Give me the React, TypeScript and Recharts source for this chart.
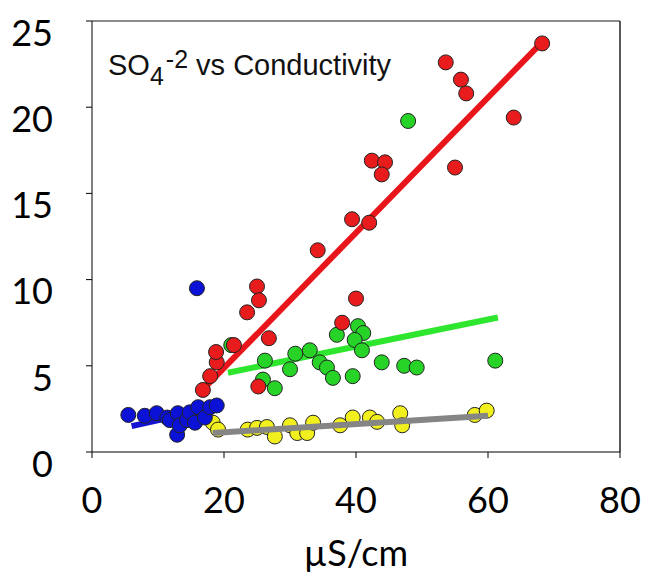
import React from 'react';
import { ScatterChart, Scatter, XAxis, YAxis, ReferenceLine } from 'recharts';

// conductivity (µS/cm) vs SO4 readings, grouped by site
const redPts = [
  { x: 16.8, y: 3.6 }, { x: 17.9, y: 4.4 }, { x: 18.9, y: 5.2 }, { x: 18.8, y: 5.8 },
  { x: 21.5, y: 6.2 }, { x: 23.5, y: 8.1 }, { x: 25.0, y: 9.6 }, { x: 25.3, y: 8.8 },
  { x: 26.8, y: 6.6 }, { x: 25.2, y: 3.8 }, { x: 37.9, y: 7.5 }, { x: 40.0, y: 8.9 },
  { x: 34.2, y: 11.7 }, { x: 39.4, y: 13.5 }, { x: 42.0, y: 13.3 }, { x: 42.4, y: 16.9 },
  { x: 44.4, y: 16.8 }, { x: 43.9, y: 16.1 }, { x: 55.0, y: 16.5 }, { x: 53.6, y: 22.6 },
  { x: 55.9, y: 21.6 }, { x: 56.7, y: 20.8 }, { x: 63.9, y: 19.4 }, { x: 68.2, y: 23.7 },
];
const greenPts = [
  { x: 21.1, y: 6.2 }, { x: 26.2, y: 5.3 }, { x: 25.9, y: 4.2 }, { x: 27.7, y: 3.7 },
  { x: 30.0, y: 4.8 }, { x: 30.8, y: 5.7 }, { x: 33.0, y: 5.9 }, { x: 34.5, y: 5.2 },
  { x: 35.6, y: 4.9 }, { x: 36.5, y: 4.3 }, { x: 37.1, y: 6.8 }, { x: 39.5, y: 4.4 },
  { x: 40.3, y: 7.3 }, { x: 41.1, y: 6.9 }, { x: 39.8, y: 6.5 }, { x: 40.9, y: 5.9 },
  { x: 43.9, y: 5.2 }, { x: 47.3, y: 5.0 }, { x: 49.2, y: 4.9 }, { x: 61.1, y: 5.3 },
  { x: 47.9, y: 19.2 },
];
const yellowPts = [
  { x: 18.3, y: 1.7 }, { x: 19.1, y: 1.3 }, { x: 23.6, y: 1.3 }, { x: 25.0, y: 1.4 },
  { x: 26.5, y: 1.45 }, { x: 27.7, y: 0.9 }, { x: 30.0, y: 1.55 }, { x: 31.1, y: 1.1 },
  { x: 32.6, y: 1.1 }, { x: 33.5, y: 1.7 }, { x: 37.6, y: 1.55 }, { x: 39.5, y: 2.0 },
  { x: 42.1, y: 2.0 }, { x: 43.2, y: 1.75 }, { x: 46.7, y: 2.25 }, { x: 47.0, y: 1.55 },
  { x: 58.0, y: 2.15 }, { x: 59.8, y: 2.4 },
];
const bluePts = [
  { x: 5.5, y: 2.15 }, { x: 8.0, y: 2.1 }, { x: 9.8, y: 2.25 }, { x: 11.4, y: 2.0 },
  { x: 11.8, y: 1.85 }, { x: 13.0, y: 2.25 }, { x: 12.9, y: 1.0 }, { x: 13.3, y: 1.55 },
  { x: 14.4, y: 1.85 }, { x: 14.8, y: 2.3 }, { x: 15.6, y: 1.7 }, { x: 16.1, y: 2.6 },
  { x: 17.1, y: 2.0 }, { x: 17.9, y: 2.6 }, { x: 18.9, y: 2.7 }, { x: 15.9, y: 9.5 },
];

// trend lines (end points)
const redFit = [{ x: 17, y: 3.7 }, { x: 67.5, y: 23.5 }];
const greenFit = [{ x: 20.6, y: 4.6 }, { x: 61.5, y: 7.8 }];
const grayFit = [{ x: 18.3, y: 1.1 }, { x: 60, y: 2.1 }];
const blueFit = [{ x: 6, y: 1.5 }, { x: 19, y: 2.6 }];

const xTicks = [0, 20, 40, 60, 80];
const yTicks = [0, 5, 10, 15, 20, 25];

const dot = (fill: string) => (props: any) => (
  <circle cx={props.cx} cy={props.cy} r={7.5} fill={fill} stroke="#222" strokeWidth={1} />
);
const noDot = () => <g />;

const tickStyle = { fontSize: 36, fontFamily: 'Lato, sans-serif', fill: '#000' };

export default function App() {
  return (
    <div style={{ position: 'absolute', left: 0, top: 0, width: 664, height: 583, background: '#fff' }}>
      <ScatterChart width={664} height={583} margin={{ top: 21, right: 44, bottom: 71, left: 12 }}>
        <XAxis
          type="number"
          dataKey="x"
          domain={[0, 80]}
          ticks={xTicks}
          height={60}
          tickSize={6}
          tickMargin={29}
          stroke="#000"
          tick={tickStyle}
          label={{
            value: 'µS/cm',
            position: 'bottom',
            offset: 28,
            style: { fontSize: 36, fontFamily: 'Lato, sans-serif', fill: '#000' },
          }}
        />
        <YAxis
          type="number"
          dataKey="y"
          domain={[0, 25]}
          ticks={yTicks}
          width={80}
          tickSize={6}
          tickMargin={33}
          stroke="#000"
          tick={{ ...tickStyle, dy: 12 }}
        />
        <ReferenceLine y={25} stroke="#666" strokeWidth={1.5} />
        <ReferenceLine x={80} stroke="#222" strokeWidth={1.5} />

        <Scatter data={redFit} line={{ stroke: '#e8161a', strokeWidth: 6 }} shape={noDot} isAnimationActive={false} />
        <Scatter data={greenFit} line={{ stroke: '#2ee62e', strokeWidth: 6 }} shape={noDot} isAnimationActive={false} />
        <Scatter data={blueFit} line={{ stroke: '#1414d0', strokeWidth: 6 }} shape={noDot} isAnimationActive={false} />

        <Scatter data={yellowPts} shape={dot('#f2ef1e')} isAnimationActive={false} />
        <Scatter data={greenPts} shape={dot('#27d327')} isAnimationActive={false} />
        <Scatter data={bluePts} shape={dot('#0b12d6')} isAnimationActive={false} />
        <Scatter data={redPts} shape={dot('#e81c1c')} isAnimationActive={false} />

        <Scatter data={grayFit} line={{ stroke: '#858585', strokeWidth: 6 }} shape={noDot} isAnimationActive={false} />
      </ScatterChart>
      <svg width={664} height={583} style={{ position: 'absolute', left: 0, top: 0, pointerEvents: 'none' }}>
        <text x={108} y={75} fontSize={29} fontFamily="'Liberation Sans', Arial, sans-serif" fill="#111">
          SO
          <tspan dy={10} fontSize={25}>4</tspan>
          <tspan dy={-17} dx={2} fontSize={25}>-2</tspan>
          <tspan dy={7}> vs Conductivity</tspan>
        </text>
      </svg>
    </div>
  );
}
